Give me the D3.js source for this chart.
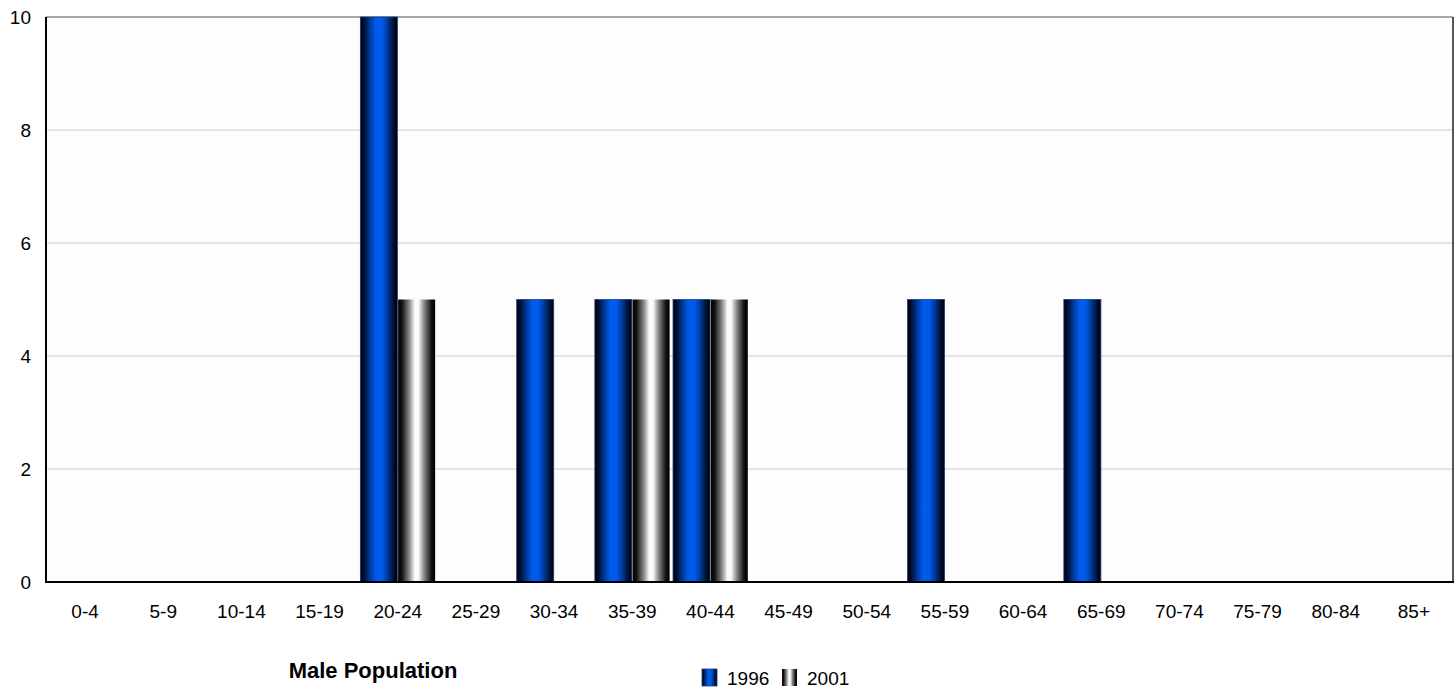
<!DOCTYPE html>
<html><head><meta charset="utf-8">
<script src="https://cdn.jsdelivr.net/npm/d3@7"></script>
<style>body{margin:0;background:#fff}text{font-family:"Liberation Sans",Arial,sans-serif}</style>
</head><body><svg id="c" width="1456" height="690"></svg>
<script>
const categories = ["0-4","5-9","10-14","15-19","20-24","25-29","30-34","35-39","40-44","45-49","50-54","55-59","60-64","65-69","70-74","75-79","80-84","85+"];
const series1996 = [0,0,0,0,10,0,5,5,5,0,0,5,0,5,0,0,0,0];
const series2001 = [0,0,0,0,5,0,0,5,5,0,0,0,0,0,0,0,0,0];
const seriesNames = ["1996","2001"];
const yTicks = [0,2,4,6,8,10];

const svg = d3.select("#c");
const L=46, R=1453, T=17, B=582;
const defs = svg.append("defs");
function grad(id, stops){
  const g = defs.append("linearGradient").attr("id",id).attr("x1","0%").attr("x2","100%").attr("y1","0%").attr("y2","0%");
  stops.forEach(s=>g.append("stop").attr("offset",s[0]).attr("stop-color",s[1]));
}
grad("gBlue",[["0%","#000008"],["10%","#001030"],["28%","#003ea6"],["42%","#005aea"],["58%","#005aea"],["72%","#003ea6"],["90%","#001030"],["100%","#000008"]]);
grad("gGray",[["0%","#000"],["10%","#111"],["30%","#888"],["45%","#fafafa"],["55%","#fafafa"],["70%","#888"],["90%","#111"],["100%","#000"]]);

const x = d3.scaleBand().domain(categories).range([L,R]);
const x1 = d3.scaleBand().domain(seriesNames).range([0,x.bandwidth()]).paddingOuter(0.045).paddingInner(0.02);
const y = d3.scaleLinear().domain([0,10]).range([B,T]);

svg.append("rect").attr("x",L).attr("y",T).attr("width",R-L).attr("height",B-T).attr("fill","#fdfdfd");
svg.append("g").selectAll("line").data(yTicks.filter(d=>d>0)).join("line")
  .attr("x1",L).attr("x2",R).attr("y1",d=>y(d)).attr("y2",d=>y(d))
  .attr("stroke",d=>d===10?"#a8a8a8":"#cccccc").attr("stroke-width",d=>d===10?2:1);
svg.append("line").attr("x1",R).attr("x2",R).attr("y1",T).attr("y2",B).attr("stroke","#222").attr("stroke-width",1.5);

const data = [series1996, series2001];
const fills = ["url(#gBlue)","url(#gGray)"];
const strokes = ["#1a3c80","none"];
data.forEach((arr,si)=>{
  svg.append("g").selectAll("rect").data(arr.map((v,i)=>({c:categories[i],v})).filter(d=>d.v>0)).join("rect")
    .attr("x",d=>x(d.c)+x1(seriesNames[si]))
    .attr("width",x1.bandwidth())
    .attr("y",d=>y(d.v)).attr("height",d=>B-y(d.v))
    .attr("fill",fills[si]).attr("stroke",strokes[si]).attr("stroke-width",0.8);
});

// axes
svg.append("line").attr("x1",L).attr("x2",L).attr("y1",T).attr("y2",B+1).attr("stroke","#000").attr("stroke-width",2);
svg.append("line").attr("x1",L-1).attr("x2",R+1).attr("y1",B).attr("y2",B).attr("stroke","#000").attr("stroke-width",2);

svg.append("g").selectAll("text").data(yTicks).join("text")
  .attr("x",31).attr("y",d=>y(d)).attr("dy","0.36em").attr("text-anchor","end")
  .attr("font-size",19).attr("fill","#000").text(d=>d);
svg.append("g").selectAll("text").data(categories).join("text")
  .attr("x",d=>x(d)+x.bandwidth()/2).attr("y",611).attr("dy","0.36em").attr("text-anchor","middle")
  .attr("font-size",19).attr("fill","#000").text(d=>d);

svg.append("text").attr("x",373).attr("y",670).attr("dy","0.36em").attr("text-anchor","middle")
  .attr("font-size",22).attr("font-weight","bold").text("Male Population");

const legX=[702,782];
seriesNames.forEach((n,i)=>{
  svg.append("rect").attr("x",legX[i]).attr("y",669).attr("width",15).attr("height",17).attr("fill",fills[i]).attr("stroke",strokes[i]).attr("stroke-width",0.8);
  svg.append("text").attr("x",legX[i]+25).attr("y",678).attr("dy","0.36em").attr("font-size",19).text(n);
});
</script></body></html>
